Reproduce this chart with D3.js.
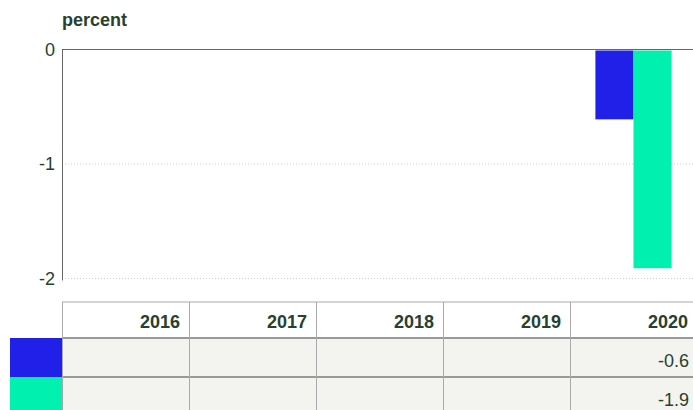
<!DOCTYPE html>
<html>
<head>
<meta charset="utf-8">
<script src="https://cdn.jsdelivr.net/npm/d3@7"></script>
<style>
    body { margin: 0; background: #fff; }
    text { font-family: "Liberation Sans", Arial, sans-serif; }
</style>
</head>
<body>
<script>
var years = ["2016", "2017", "2018", "2019", "2020"];
var seriesNames = ["series1", "series2"];
// bar heights; the table shows them to one decimal
var series1 = [null, null, null, null, -0.61];
var series2 = [null, null, null, null, -1.91];
var yTicks = [0, -1, -2];
var colors = ["#2020e8", "#00f0b0"];

var width = 693,
    height = 410;

var textColor = "#27402f";

var plotLeft = 62,
    plotRight = 697,
    plotTop = 49.5,
    plotBottom = 278.5;

var svg = d3.select("body").append("svg")
    .attr("width", width)
    .attr("height", height);

var x = d3.scaleBand()
    .domain(years)
    .range([plotLeft, plotRight]);

var xSub = d3.scaleBand()
    .domain(seriesNames)
    .range([x.bandwidth() * 0.2, x.bandwidth() * 0.8]);

var y = d3.scaleLinear()
    .domain([-2, 0])
    .range([plotBottom, plotTop]);

// y label
svg.append("text")
    .attr("x", plotLeft)
    .attr("y", 26)
    .attr("font-size", "18px")
    .attr("font-weight", "bold")
    .attr("fill", textColor)
    .text("percent");

// gridlines
svg.selectAll("line.grid")
    .data(yTicks.filter(function(d) { return d !== 0; }))
    .enter().append("line")
    .attr("class", "grid")
    .attr("x1", plotLeft)
    .attr("x2", width)
    .attr("y1", function(d) { return y(d); })
    .attr("y2", function(d) { return y(d); })
    .style("stroke", "#cccccc")
    .style("stroke-width", 1)
    .style("stroke-dasharray", "1,2");

// tick labels
svg.selectAll("text.tick")
    .data(yTicks)
    .enter().append("text")
    .attr("class", "tick")
    .attr("x", 55)
    .attr("y", function(d) { return y(d) + 6; })
    .attr("text-anchor", "end")
    .attr("font-size", "18px")
    .attr("fill", textColor)
    .text(function(d) { return d; });

// bars
var dataset = [];
years.forEach(function(yr, i) {
    [series1, series2].forEach(function(s, j) {
        if (s[i] !== null) {
            dataset.push({ year: yr, name: seriesNames[j], value: s[i], color: colors[j] });
        }
    });
});

svg.selectAll("rect.bar")
    .data(dataset)
    .enter().append("rect")
    .attr("class", "bar")
    .attr("x", function(d) { return x(d.year) + xSub(d.name); })
    .attr("width", xSub.bandwidth())
    .attr("y", y(0) + 1)
    .attr("height", function(d) { return y(d.value) - y(0) - 1; })
    .style("fill", function(d) { return d.color; });

// axis lines
svg.append("line")
    .attr("x1", plotLeft).attr("x2", width)
    .attr("y1", y(0)).attr("y2", y(0))
    .style("stroke", "#666")
    .style("stroke-width", 1);

svg.append("line")
    .attr("x1", plotLeft + 0.5).attr("x2", plotLeft + 0.5)
    .attr("y1", y(0)).attr("y2", plotBottom + 2)
    .style("stroke", "#666")
    .style("stroke-width", 1);

// table
var headTop = 302,
    headH = 36,
    rowH = 39;

var rows = d3.scaleBand()
    .domain(seriesNames)
    .range([headTop + headH, headTop + headH + rowH * seriesNames.length]);

var table = svg.append("g");

// data cell backgrounds
table.selectAll("rect.rowbg")
    .data(seriesNames)
    .enter().append("rect")
    .attr("class", "rowbg")
    .attr("x", plotLeft)
    .attr("y", function(d) { return rows(d); })
    .attr("width", plotRight - plotLeft)
    .attr("height", rows.bandwidth())
    .style("fill", "#f3f3ef");

// legend swatches
table.selectAll("rect.swatch")
    .data(seriesNames)
    .enter().append("rect")
    .attr("class", "swatch")
    .attr("x", 10)
    .attr("y", function(d) { return rows(d); })
    .attr("width", plotLeft - 10)
    .attr("height", rows.bandwidth())
    .style("fill", function(d, i) { return colors[i]; });

// horizontal borders
table.append("line")
    .attr("x1", plotLeft).attr("x2", plotRight)
    .attr("y1", headTop).attr("y2", headTop)
    .style("stroke", "#aaa").style("stroke-width", 1);

table.selectAll("line.hrow")
    .data(seriesNames)
    .enter().append("line")
    .attr("class", "hrow")
    .attr("x1", plotLeft).attr("x2", plotRight)
    .attr("y1", function(d) { return rows(d); })
    .attr("y2", function(d) { return rows(d); })
    .style("stroke", "#999").style("stroke-width", 2);

// vertical borders
table.selectAll("line.vcol")
    .data(years)
    .enter().append("line")
    .attr("class", "vcol")
    .attr("x1", function(d) { return x(d) + 0.5; })
    .attr("x2", function(d) { return x(d) + 0.5; })
    .attr("y1", headTop)
    .attr("y2", height)
    .style("stroke", "#aaa").style("stroke-width", 1);

// header labels
table.selectAll("text.year")
    .data(years)
    .enter().append("text")
    .attr("class", "year")
    .attr("x", function(d) { return x(d) + x.bandwidth() - 9; })
    .attr("y", headTop + 26)
    .attr("text-anchor", "end")
    .attr("font-size", "18px")
    .attr("font-weight", "bold")
    .attr("fill", textColor)
    .text(function(d) { return d; });

// values
table.selectAll("text.val")
    .data(dataset)
    .enter().append("text")
    .attr("class", "val")
    .attr("x", function(d) { return x(d.year) + x.bandwidth() - 8; })
    .attr("y", function(d) { return rows(d.name) + 29; })
    .attr("text-anchor", "end")
    .attr("font-size", "18px")
    .attr("fill", textColor)
    .text(function(d) { return d.value.toFixed(1); });
</script>
</body>
</html>
